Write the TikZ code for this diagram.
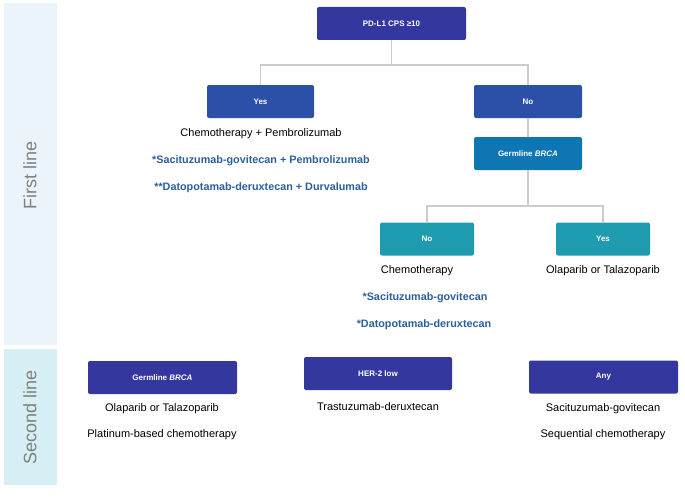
\documentclass[tikz,border=0pt]{standalone}
\usepackage{fontspec}
\setmainfont{Liberation Sans}
\definecolor{indigo}{RGB}{51,55,158}
\definecolor{midblue}{RGB}{44,80,168}
\definecolor{seablue}{RGB}{14,118,179}
\definecolor{teal}{RGB}{30,155,174}
\definecolor{drugblue}{RGB}{43,95,156}
\definecolor{linkgray}{RGB}{204,204,204}
\definecolor{panelone}{RGB}{235,244,251}
\definecolor{paneltwo}{RGB}{213,239,244}
\definecolor{paneltext}{RGB}{128,128,128}

\begin{document}
\begin{tikzpicture}[x=1pt,y=-1pt,
    decision/.style ={rectangle, rounded corners=2pt, inner sep=0pt,
      minimum height=33pt, text=white,
      font=\fontsize{8}{9}\selectfont\bfseries},
    therapy/.style ={font=\fontsize{11}{13}\selectfont},
    newdrug/.style ={font=\fontsize{10.8}{13}\selectfont\bfseries, text=drugblue},
    link/.style ={linkgray, line width=1.5pt},
    phase/.style ={rotate=90, text=paneltext, font=\fontsize{18}{20}\selectfont}]
   \useasboundingbox (0,0) rectangle (685,503);

   % side panels
   \fill[panelone] (4,3) rectangle (57,345);
   \fill[paneltwo] (4,349) rectangle (57,485);
   \node[phase] (first)  at (30,175) {First line};
   \node[phase] (second) at (30,417) {Second line};

   % first line tree
   \node[decision,fill=indigo,minimum width=149pt] (pdl) at (391.5,23.5) {PD-L1 CPS ≥10};
   \node[decision,fill=midblue,minimum width=107pt] (yes) at (260.5,101.5) {Yes};
   \node[decision,fill=midblue,minimum width=108pt] (no)  at (528,101.5) {No};
   \node[decision,fill=seablue,minimum width=108pt] (gbrca) at (528,153.5) {Germline \textit{BRCA}};
   \node[decision,fill=teal,minimum width=94pt] (gno)  at (427,239) {No};
   \node[decision,fill=teal,minimum width=94pt] (gyes) at (603,239) {Yes};

   \coordinate (split) at (391.5,65);
   \coordinate (gsplit) at (528,206);
   \draw[link] (pdl) -- (split);
   \draw[link] (split) -| (yes);
   \draw[link] (split) -| (no);
   \draw[link] (no) -- (gbrca);
   \draw[link] (gbrca) -- (gsplit);
   \draw[link] (gsplit) -| (gno);
   \draw[link] (gsplit) -| (gyes);

   \node[therapy] (chemopembro) at (261,134) {Chemotherapy + Pembrolizumab};
   \node[newdrug] (sgpembro) at (261,161) {*Sacituzumab-govitecan + Pembrolizumab};
   \node[newdrug] (ddurva)   at (261,188) {**Datopotamab-deruxtecan + Durvalumab};
   \node[therapy] (chemo)  at (417,271) {Chemotherapy};
   \node[therapy] (parpone) at (603,271) {Olaparib or Talazoparib};
   \node[newdrug] (sg)  at (425,298) {*Sacituzumab-govitecan};
   \node[newdrug] (dd)  at (424,325) {*Datopotamab-deruxtecan};

   % second line
   \node[decision,fill=indigo,minimum width=149pt] (sbrca) at (162.5,377.5) {Germline \textit{BRCA}};
   \node[decision,fill=indigo,minimum width=148pt] (her) at (378,373.5) {HER-2 low};
   \node[decision,fill=indigo,minimum width=149pt] (any) at (603.5,377) {Any};

   \node[therapy] (parptwo) at (162,409) {Olaparib or Talazoparib};
   \node[therapy] (platin)  at (162,435) {Platinum-based chemotherapy};
   \node[therapy] (tdxd)    at (378,407) {Trastuzumab-deruxtecan};
   \node[therapy] (sgtwo)   at (603,409) {Sacituzumab-govitecan};
   \node[therapy] (seq)     at (603,435) {Sequential chemotherapy};
 \end{tikzpicture}
\end{document}
